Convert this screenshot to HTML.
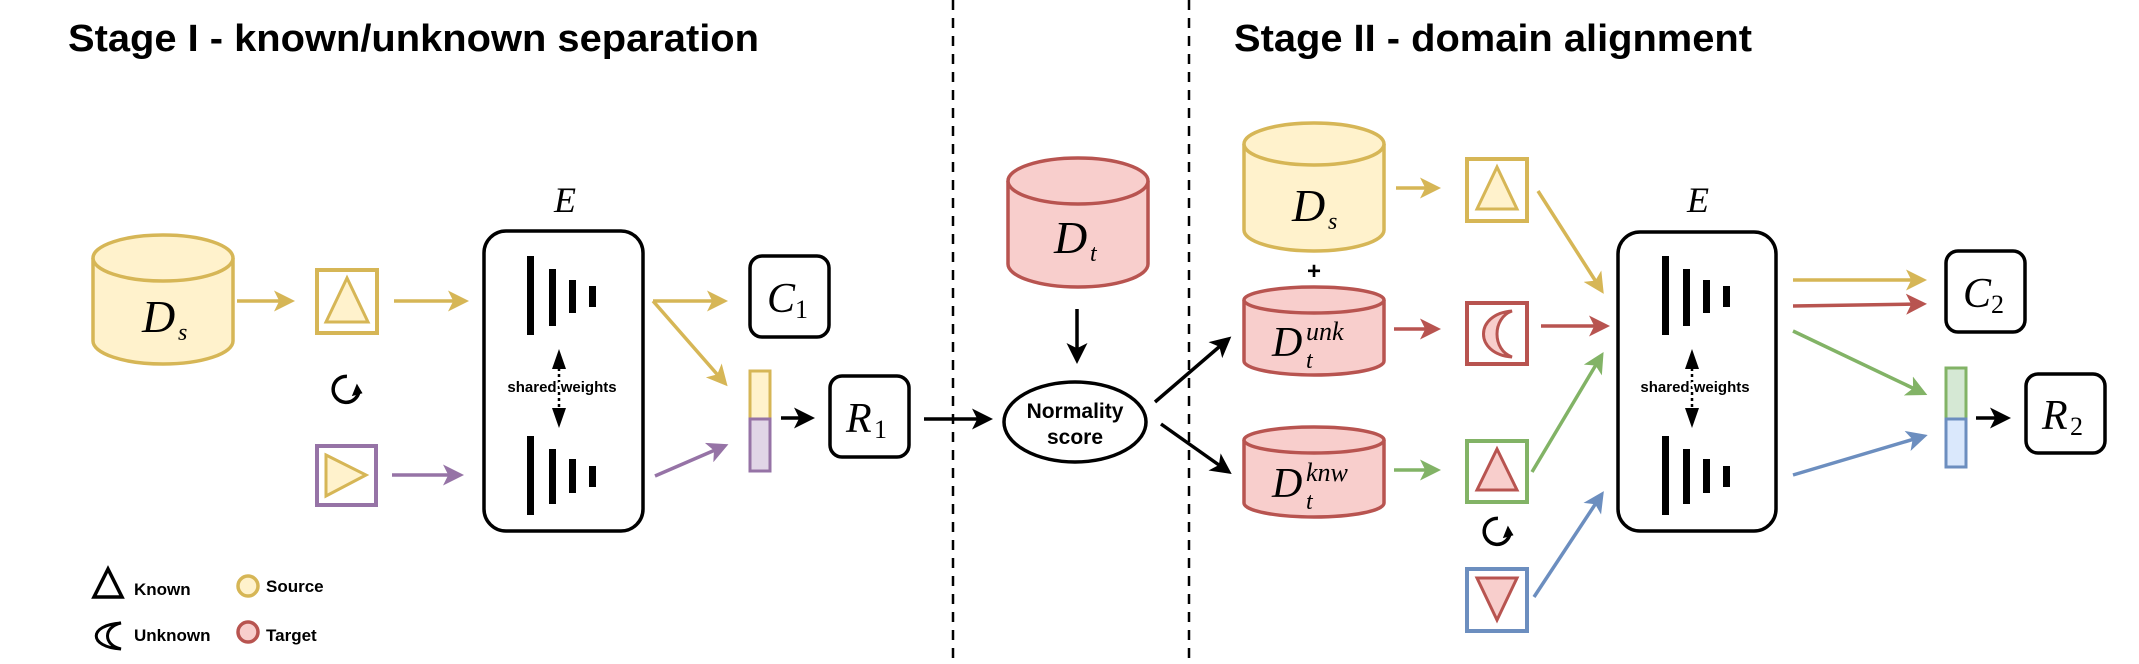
<!DOCTYPE html>
<html><head><meta charset="utf-8"><style>
html,body{margin:0;padding:0;background:#fff;overflow:hidden;}
svg{display:block;}
.t{font-family:"Liberation Sans",sans-serif;font-weight:bold;}
.m{font-family:"Liberation Serif",serif;font-style:italic;}
.n{font-family:"Liberation Serif",serif;}
</style></head><body>
<svg width="2139" height="664" viewBox="0 0 2139 664" xmlns="http://www.w3.org/2000/svg">
<defs>
<marker id="ay" markerWidth="7" markerHeight="7" refX="4" refY="3" orient="auto" markerUnits="strokeWidth"><path d="M0,0 L6,3 L0,6 L1.5,3z" fill="#d6b656"/></marker>
<marker id="ap" markerWidth="7" markerHeight="7" refX="4" refY="3" orient="auto" markerUnits="strokeWidth"><path d="M0,0 L6,3 L0,6 L1.5,3z" fill="#9673a6"/></marker>
<marker id="ar" markerWidth="7" markerHeight="7" refX="4" refY="3" orient="auto" markerUnits="strokeWidth"><path d="M0,0 L6,3 L0,6 L1.5,3z" fill="#b85450"/></marker>
<marker id="ag" markerWidth="7" markerHeight="7" refX="4" refY="3" orient="auto" markerUnits="strokeWidth"><path d="M0,0 L6,3 L0,6 L1.5,3z" fill="#82b366"/></marker>
<marker id="ab" markerWidth="7" markerHeight="7" refX="4" refY="3" orient="auto" markerUnits="strokeWidth"><path d="M0,0 L6,3 L0,6 L1.5,3z" fill="#6c8ebf"/></marker>
<marker id="ak" markerWidth="7" markerHeight="7" refX="4" refY="3" orient="auto" markerUnits="strokeWidth"><path d="M0,0 L6,3 L0,6 L1.5,3z" fill="#000"/></marker>
</defs>

<text class="t" x="68" y="51" font-size="38" textLength="691" lengthAdjust="spacingAndGlyphs">Stage I - known/unknown separation</text>
<text class="t" x="1234" y="51" font-size="38" textLength="518" lengthAdjust="spacingAndGlyphs">Stage II - domain alignment</text>

<line x1="953" y1="0" x2="953" y2="664" stroke="#000" stroke-width="2.5" stroke-dasharray="10,8"/>
<line x1="1189" y1="0" x2="1189" y2="664" stroke="#000" stroke-width="2.5" stroke-dasharray="10,8"/>

<g stroke="#d6b656" stroke-width="3.5" fill="#fff2cc">
<path d="M93,258 L93,341 A70,23 0 0 0 233,341 L233,258"/>
<ellipse cx="163" cy="258" rx="70" ry="23"/>
</g>
<text class="m" x="142" y="332" font-size="46">D</text><text class="m" x="178" y="340" font-size="24">s</text>

<line x1="237" y1="301" x2="288" y2="301" stroke="#d6b656" stroke-width="3.5" marker-end="url(#ay)"/>
<rect x="317" y="270" width="60" height="63" fill="#fff" stroke="#d6b656" stroke-width="4"/>
<polygon points="347,278 326,322 368,322" fill="#fff2cc" stroke="#d6b656" stroke-width="3"/>
<line x1="394" y1="301" x2="462" y2="301" stroke="#d6b656" stroke-width="3.5" marker-end="url(#ay)"/>

<g transform="translate(345,389)"><path d="M8,-10 A13,13 0 1 0 11,9" fill="none" stroke="#000" stroke-width="3.5" transform="rotate(-30)"/><path d="M4,9 L15,10 L13,-1z" fill="#000" transform="rotate(-20)"/></g>

<rect x="317" y="446" width="59" height="59" fill="#fff" stroke="#9673a6" stroke-width="4"/>
<polygon points="326,455 366,475 326,496" fill="#fff2cc" stroke="#d6b656" stroke-width="3"/>
<line x1="392" y1="475" x2="457" y2="475" stroke="#9673a6" stroke-width="3.5" marker-end="url(#ap)"/>

<text class="m" x="565" y="212" font-size="36" text-anchor="middle">E</text>
<rect x="484" y="231" width="159" height="300" rx="22" fill="#fff" stroke="#000" stroke-width="3.5"/>
<g fill="#000">
<rect x="527" y="256" width="7" height="79"/><rect x="549" y="269" width="7" height="57"/><rect x="569" y="280" width="7" height="33"/><rect x="589" y="286" width="7" height="21"/>
<rect x="527" y="436" width="7" height="79"/><rect x="549" y="449" width="7" height="55"/><rect x="569" y="459" width="7" height="34"/><rect x="589" y="466" width="7" height="21"/>
</g>
<line x1="559" y1="368" x2="559" y2="410" stroke="#000" stroke-width="2.5" stroke-dasharray="3,3"/>
<polygon points="559,349 552,369 566,369" fill="#000"/><polygon points="559,428 552,408 566,408" fill="#000"/>
<text class="t" x="562" y="392" font-size="15" text-anchor="middle" stroke="#fff" stroke-width="4" paint-order="stroke">shared weights</text>

<line x1="653" y1="301" x2="721" y2="301" stroke="#d6b656" stroke-width="3.5" marker-end="url(#ay)"/>
<line x1="653" y1="301" x2="723" y2="381" stroke="#d6b656" stroke-width="3.5" marker-end="url(#ay)"/>
<line x1="655" y1="476" x2="722" y2="447" stroke="#9673a6" stroke-width="3.5" marker-end="url(#ap)"/>
<rect x="750" y="256" width="79" height="81" rx="12" fill="#fff" stroke="#000" stroke-width="3.5"/>
<text class="m" x="767" y="312" font-size="42">C</text><text class="n" x="795" y="318" font-size="26">1</text>
<rect x="750" y="371" width="20" height="48" fill="#fff2cc" stroke="#d6b656" stroke-width="3"/>
<rect x="750" y="419" width="20" height="52" fill="#e1d5e7" stroke="#9673a6" stroke-width="3"/>
<line x1="781" y1="418" x2="808" y2="418" stroke="#000" stroke-width="3.5" marker-end="url(#ak)"/>
<rect x="830" y="376" width="79" height="81" rx="12" fill="#fff" stroke="#000" stroke-width="3.5"/>
<text class="m" x="846" y="432" font-size="42">R</text><text class="n" x="874" y="438" font-size="26">1</text>
<line x1="924" y1="419" x2="986" y2="419" stroke="#000" stroke-width="3.5" marker-end="url(#ak)"/>

<g stroke="#b85450" stroke-width="3.5" fill="#f8cecc">
<path d="M1008,181 L1008,264 A70,23 0 0 0 1148,264 L1148,181"/>
<ellipse cx="1078" cy="181" rx="70" ry="23"/>
</g>
<text class="m" x="1054" y="253" font-size="46">D</text><text class="m" x="1090" y="261" font-size="24">t</text>
<line x1="1077" y1="309" x2="1077" y2="357" stroke="#000" stroke-width="3.5" marker-end="url(#ak)"/>
<ellipse cx="1075" cy="422" rx="71" ry="40" fill="#fff" stroke="#000" stroke-width="3.5"/>
<text class="t" x="1075" y="418" font-size="21" text-anchor="middle">Normality</text>
<text class="t" x="1075" y="444" font-size="21" text-anchor="middle">score</text>
<line x1="1155" y1="402" x2="1226" y2="341" stroke="#000" stroke-width="3.5" marker-end="url(#ak)"/>
<line x1="1161" y1="424" x2="1226" y2="470" stroke="#000" stroke-width="3.5" marker-end="url(#ak)"/>

<g stroke="#d6b656" stroke-width="3.5" fill="#fff2cc">
<path d="M1244,144 L1244,230 A70,21 0 0 0 1384,230 L1384,144"/>
<ellipse cx="1314" cy="144" rx="70" ry="21"/>
</g>
<text class="m" x="1292" y="221" font-size="46">D</text><text class="m" x="1328" y="229" font-size="24">s</text>
<text class="t" x="1314" y="279" font-size="24" text-anchor="middle">+</text>
<g stroke="#b85450" stroke-width="3.5" fill="#f8cecc">
<path d="M1244,300 L1244,361 A70,14 0 0 0 1384,361 L1384,300"/>
<ellipse cx="1314" cy="300" rx="70" ry="13"/>
<path d="M1244,440 L1244,503 A70,14 0 0 0 1384,503 L1384,440"/>
<ellipse cx="1314" cy="440" rx="70" ry="13"/>
</g>
<text class="m" x="1272" y="356" font-size="42">D</text><text class="m" x="1306" y="340" font-size="26">unk</text><text class="m" x="1306" y="368" font-size="24">t</text>
<text class="m" x="1272" y="497" font-size="42">D</text><text class="m" x="1306" y="481" font-size="26">knw</text><text class="m" x="1306" y="509" font-size="24">t</text>

<line x1="1396" y1="188" x2="1434" y2="188" stroke="#d6b656" stroke-width="3.5" marker-end="url(#ay)"/>
<line x1="1394" y1="329" x2="1434" y2="329" stroke="#b85450" stroke-width="3.5" marker-end="url(#ar)"/>
<line x1="1394" y1="470" x2="1434" y2="470" stroke="#82b366" stroke-width="3.5" marker-end="url(#ag)"/>

<rect x="1467" y="159" width="60" height="62" fill="#fff" stroke="#d6b656" stroke-width="4"/>
<polygon points="1497,167 1477,209 1517,209" fill="#fff2cc" stroke="#d6b656" stroke-width="3"/>
<rect x="1467" y="303" width="60" height="61" fill="#fff" stroke="#b85450" stroke-width="4"/>
<path d="M1512,311 C1474,314 1474,354 1512,357 C1492,350 1492,318 1512,311z" fill="#f8cecc" stroke="#b85450" stroke-width="3"/>
<rect x="1467" y="441" width="60" height="61" fill="#fff" stroke="#82b366" stroke-width="4"/>
<polygon points="1497,449 1477,490 1517,490" fill="#f8cecc" stroke="#b85450" stroke-width="3"/>
<g transform="translate(1496,531)"><path d="M8,-10 A13,13 0 1 0 11,9" fill="none" stroke="#000" stroke-width="3.5" transform="rotate(-30)"/><path d="M4,9 L15,10 L13,-1z" fill="#000" transform="rotate(-20)"/></g>
<rect x="1467" y="569" width="60" height="62" fill="#fff" stroke="#6c8ebf" stroke-width="4"/>
<polygon points="1477,578 1517,578 1497,620" fill="#f8cecc" stroke="#b85450" stroke-width="3"/>

<line x1="1538" y1="191" x2="1600" y2="288" stroke="#d6b656" stroke-width="3.5" marker-end="url(#ay)"/>
<line x1="1541" y1="326" x2="1603" y2="326" stroke="#b85450" stroke-width="3.5" marker-end="url(#ar)"/>
<line x1="1532" y1="472" x2="1600" y2="358" stroke="#82b366" stroke-width="3.5" marker-end="url(#ag)"/>
<line x1="1534" y1="597" x2="1600" y2="497" stroke="#6c8ebf" stroke-width="3.5" marker-end="url(#ab)"/>

<text class="m" x="1698" y="212" font-size="36" text-anchor="middle">E</text>
<rect x="1618" y="232" width="158" height="299" rx="22" fill="#fff" stroke="#000" stroke-width="3.5"/>
<g fill="#000">
<rect x="1662" y="256" width="7" height="79"/><rect x="1683" y="269" width="7" height="57"/><rect x="1703" y="280" width="7" height="33"/><rect x="1723" y="286" width="7" height="21"/>
<rect x="1662" y="436" width="7" height="79"/><rect x="1683" y="449" width="7" height="55"/><rect x="1703" y="459" width="7" height="34"/><rect x="1723" y="466" width="7" height="21"/>
</g>
<line x1="1692" y1="368" x2="1692" y2="410" stroke="#000" stroke-width="2.5" stroke-dasharray="3,3"/>
<polygon points="1692,349 1685,369 1699,369" fill="#000"/><polygon points="1692,428 1685,408 1699,408" fill="#000"/>
<text class="t" x="1695" y="392" font-size="15" text-anchor="middle" stroke="#fff" stroke-width="4" paint-order="stroke">shared weights</text>

<line x1="1793" y1="280" x2="1920" y2="280" stroke="#d6b656" stroke-width="3.5" marker-end="url(#ay)"/>
<line x1="1793" y1="306" x2="1920" y2="304" stroke="#b85450" stroke-width="3.5" marker-end="url(#ar)"/>
<line x1="1793" y1="331" x2="1921" y2="392" stroke="#82b366" stroke-width="3.5" marker-end="url(#ag)"/>
<line x1="1793" y1="475" x2="1921" y2="437" stroke="#6c8ebf" stroke-width="3.5" marker-end="url(#ab)"/>
<rect x="1946" y="251" width="79" height="81" rx="12" fill="#fff" stroke="#000" stroke-width="3.5"/>
<text class="m" x="1963" y="307" font-size="42">C</text><text class="n" x="1991" y="313" font-size="26">2</text>
<rect x="1946" y="368" width="20" height="51" fill="#d5e8d4" stroke="#82b366" stroke-width="3"/>
<rect x="1946" y="419" width="20" height="48" fill="#dae8fc" stroke="#6c8ebf" stroke-width="3"/>
<line x1="1976" y1="418" x2="2004" y2="418" stroke="#000" stroke-width="3.5" marker-end="url(#ak)"/>
<rect x="2026" y="374" width="79" height="79" rx="12" fill="#fff" stroke="#000" stroke-width="3.5"/>
<text class="m" x="2042" y="429" font-size="42">R</text><text class="n" x="2070" y="435" font-size="26">2</text>

<polygon points="108,569 94,597 122,597" fill="none" stroke="#000" stroke-width="3.5"/>
<text class="t" x="134" y="595" font-size="17">Known</text>
<circle cx="248" cy="586" r="10" fill="#fff2cc" stroke="#d6b656" stroke-width="3.5"/>
<text class="t" x="266" y="592" font-size="17">Source</text>
<path d="M121,623 C88,625 88,647 121,649 C103,645 103,627 121,623z" fill="none" stroke="#000" stroke-width="3"/>
<text class="t" x="134" y="641" font-size="17">Unknown</text>
<circle cx="248" cy="632" r="10" fill="#f8cecc" stroke="#b85450" stroke-width="3.5"/>
<text class="t" x="266" y="641" font-size="17">Target</text>
</svg>
</body></html>
